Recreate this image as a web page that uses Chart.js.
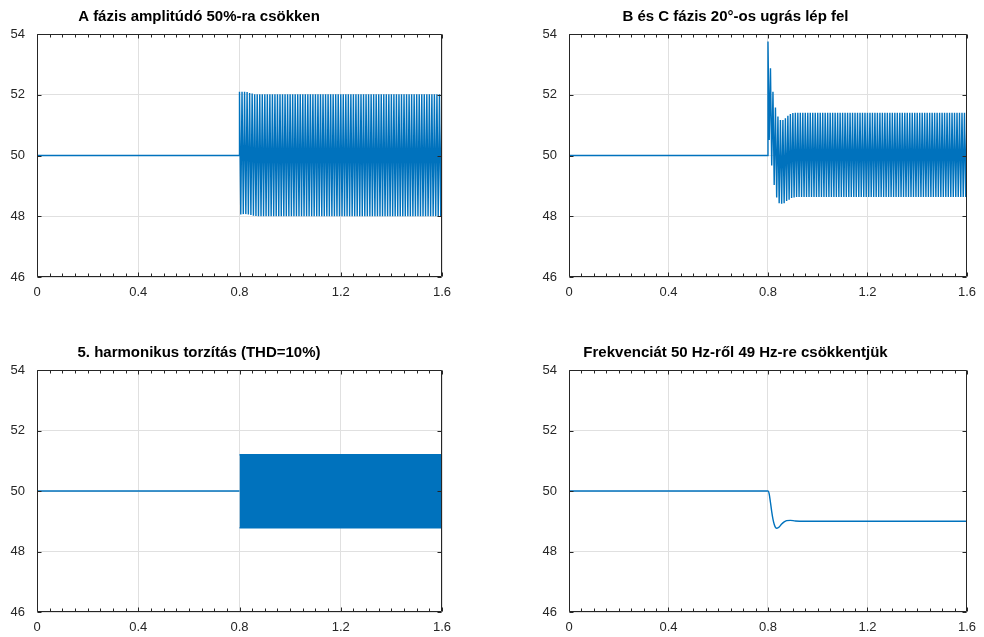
<!DOCTYPE html>
<html>
<head>
<meta charset="utf-8">
<script src="https://cdn.jsdelivr.net/npm/chart.js@4.4.1/dist/chart.umd.min.js"></script>
<style>
  html, body { margin: 0; padding: 0; background: #fff; overflow: hidden; }
  .panel { position: absolute; }
</style>
</head>
<body>
<div class="panel" style="left:0;top:0;width:460px;height:302px"><canvas id="c1"></canvas></div>
<div class="panel" style="left:532px;top:0;width:452px;height:302px"><canvas id="c2"></canvas></div>
<div class="panel" style="left:0;top:336px;width:460px;height:301px"><canvas id="c3"></canvas></div>
<div class="panel" style="left:532px;top:336px;width:452px;height:301px"><canvas id="c4"></canvas></div>
<script>
const xTicks = [0, 0.4, 0.8, 1.2, 1.6];
const yTicks = [46, 48, 50, 52, 54];
const titles = [
  'A fázis amplitúdó 50%-ra csökken',
  'B és C fázis 20°-os ugrás lép fel',
  '5. harmonikus torzítás (THD=10%)',
  'Frekvenciát 50 Hz-ről 49 Hz-re csökkentjük'
];

const nominal = 50;
const faultTime = 0.8;
const endTime = 1.6;
const cyclePeriod = 0.01; // 100 Hz ripple after the fault

// A fázis: ripple peaks per cycle (first cycles), then the steady peaks
const ampHigh = [52.1, 52.1, 52.1, 52.09, 52.06, 52.04, 52.02];
const ampLow = [48.06, 48.07, 48.07, 48.06, 48.04, 48.02, 48.01];
const ampSteady = [52.02, 48.0];

// B és C fázis ugrás
const phaseHigh = [53.75, 52.87, 52.1, 51.58, 51.28, 51.17, 51.17, 51.23, 51.31, 51.37, 51.4];
const phaseLow = [50.51, 49.67, 49.03, 48.62, 48.43, 48.41, 48.43, 48.5, 48.54, 48.6, 48.62];
const phaseSteady = [51.41, 48.63];

// 5. harmonikus: envelope of the dense ripple
const harmTop = 51.2;
const harmBottom = 48.78;

// frekvencia lépés
const freqTime = [0, 0.8, 0.805, 0.81, 0.815, 0.82, 0.825, 0.83, 0.836, 0.845, 0.855, 0.865, 0.875, 0.89, 0.91, 1.0, 1.6];
const freqValue = [50, 50, 49.9, 49.62, 49.32, 49.07, 48.9, 48.8, 48.77, 48.81, 48.91, 48.98, 49.02, 49.03, 49.01, 49.0, 49.0];

const blue = '#0072BD';
const axisColor = '#262626';
const font = '"Liberation Sans", Arial, Helvetica, sans-serif';

function ripple(high, low, steady) {
  const pts = [{ x: 0, y: nominal }, { x: faultTime, y: nominal }];
  const cycles = Math.round((endTime - faultTime) / cyclePeriod);
  for (let k = 0; k <= cycles; k++) {
    const t = faultTime + k * cyclePeriod;
    pts.push({ x: t, y: k < high.length ? high[k] : steady[0] });
    if (k < cycles) pts.push({ x: t + cyclePeriod / 2, y: k < low.length ? low[k] : steady[1] });
  }
  return pts;
}

const boxPlugin = {
  id: 'box',
  afterDatasetsDraw(chart) {
    const { ctx, chartArea: a, scales } = chart;
    const l = Math.round(a.left) + 0.5, r = Math.round(a.right) - 0.5;
    const t = Math.round(a.top) + 0.5, b = Math.round(a.bottom) - 0.5;
    ctx.save();
    ctx.strokeStyle = axisColor;
    ctx.lineWidth = 1;
    ctx.beginPath();
    ctx.rect(l, t, r - l, b - t);
    // minor + major ticks on x, inward, top and bottom
    for (let i = 0; i <= 32; i++) {
      const v = i * 0.05;
      const x = Math.round(scales.x.getPixelForValue(v)) + 0.5;
      const len = i % 8 === 0 ? 4 : 3;
      ctx.moveTo(x, b); ctx.lineTo(x, b - len);
      ctx.moveTo(x, t); ctx.lineTo(x, t + len);
    }
    yTicks.forEach(v => {
      const y = Math.round(scales.y.getPixelForValue(v)) + 0.5;
      ctx.moveTo(l, y); ctx.lineTo(l + 4, y);
      ctx.moveTo(r, y); ctx.lineTo(r - 4, y);
    });
    ctx.stroke();
    ctx.restore();
  }
};

const titlePlugin = {
  id: 'panelTitle',
  afterDraw(chart, args, opts) {
    const ctx = chart.ctx;
    ctx.save();
    ctx.font = 'bold 15px ' + font;
    ctx.fillStyle = '#000';
    ctx.textAlign = 'center';
    ctx.textBaseline = 'middle';
    ctx.fillText(opts.text, opts.x, opts.y);
    ctx.restore();
  }
};

function makeChart(id, datasets, title, titleX, padRight) {
  return new Chart(document.getElementById(id), {
    type: 'line',
    data: { datasets },
    options: {
      responsive: true,
      maintainAspectRatio: false,
      animation: false,
      parsing: false,
      layout: { padding: { left: 0, right: padRight, top: 34, bottom: 0 } },
      elements: { point: { radius: 0 }, line: { borderWidth: 1.4, tension: 0 } },
      scales: {
        x: {
          type: 'linear', min: 0, max: 1.6,
          afterBuildTicks: s => { s.ticks = xTicks.map(v => ({ value: v })); },
          afterFit: s => { s.height = 25; },
          grid: { color: '#e0e0e0', drawTicks: false },
          border: { display: false },
          ticks: { color: axisColor, font: { family: font, size: 13 }, padding: 8, maxRotation: 0 }
        },
        y: {
          min: 46, max: 54,
          afterBuildTicks: s => { s.ticks = yTicks.map(v => ({ value: v })); },
          afterFit: s => { s.width = 37; },
          grid: { color: '#e0e0e0', drawTicks: false },
          border: { display: false },
          ticks: { color: axisColor, font: { family: font, size: 13 }, padding: 12 }
        }
      },
      plugins: {
        legend: { display: false },
        tooltip: { enabled: false },
        panelTitle: { text: title, x: titleX, y: 17 }
      }
    },
    plugins: [boxPlugin, titlePlugin]
  });
}

makeChart('c1', [
  { data: ripple(ampHigh, ampLow, ampSteady), borderColor: blue }
], titles[0], 199, 18);

makeChart('c2', [
  { data: ripple(phaseHigh, phaseLow, phaseSteady), borderColor: blue }
], titles[1], 203.5, 8);

makeChart('c3', [
  { data: [{ x: 0, y: nominal }, { x: faultTime, y: nominal }], borderColor: blue },
  { data: [{ x: faultTime, y: harmTop }, { x: endTime, y: harmTop }], borderColor: blue, backgroundColor: blue, fill: '+1' },
  { data: [{ x: faultTime, y: harmBottom }, { x: endTime, y: harmBottom }], borderColor: blue }
], titles[2], 199, 18);

makeChart('c4', [
  { data: freqTime.map((t, i) => ({ x: t, y: freqValue[i] })), borderColor: blue, cubicInterpolationMode: 'monotone' }
], titles[3], 203.5, 8);
</script>
</body>
</html>
